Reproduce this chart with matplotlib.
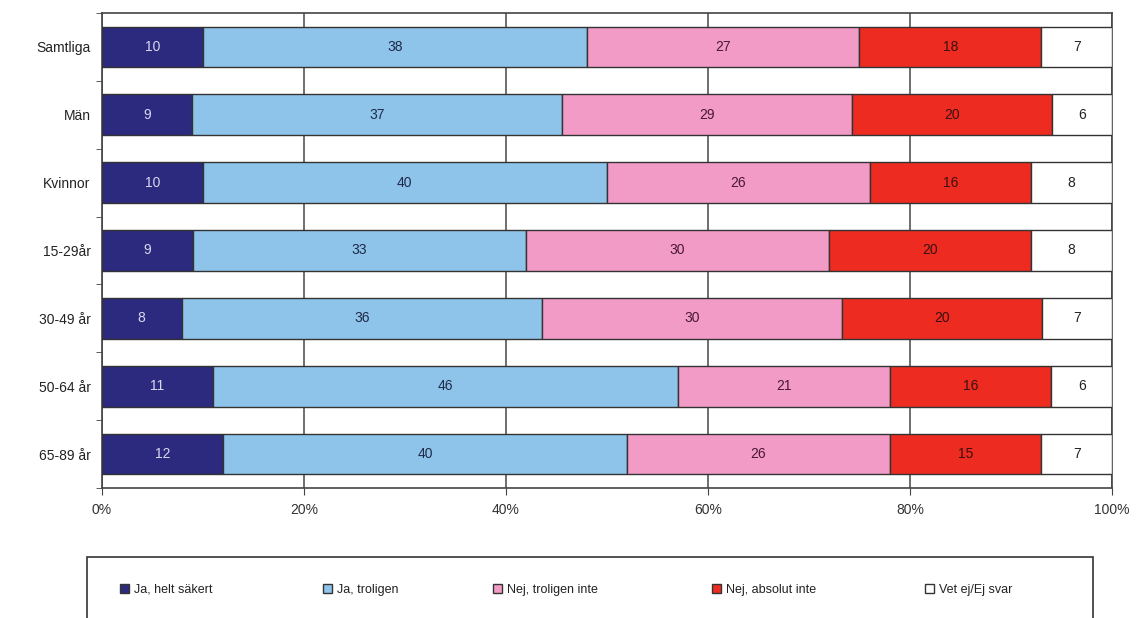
import matplotlib
matplotlib.use("Agg")
import matplotlib.pyplot as plt
import numpy as np
from matplotlib.patches import Rectangle, Patch

plt.rcParams['font.family'] = ['Liberation Sans', 'DejaVu Sans']

categories = ["Samtliga", "Män", "Kvinnor", "15-29år", "30-49 år", "50-64 år", "65-89 år"]
series_names = ["Ja, helt säkert", "Ja, troligen", "Nej, troligen inte", "Nej, absolut inte", "Vet ej/Ej svar"]
ja_helt = [10, 9, 10, 9, 8, 11, 12]
ja_troligen = [38, 37, 40, 33, 36, 46, 40]
nej_troligen = [27, 29, 26, 30, 30, 21, 26]
nej_absolut = [18, 20, 16, 20, 20, 16, 15]
vet_ej = [7, 6, 8, 8, 7, 6, 7]
xtick_labels = ["0%", "20%", "40%", "60%", "80%", "100%"]

colors = ["#2C2A7F", "#8FC4EA", "#F29BC6", "#EE2B20", "#FFFFFF"]
text_colors = ["#D8D8F0", "#1E2A48", "#4A1838", "#3A1010", "#222222"]

data = np.array([ja_helt, ja_troligen, nej_troligen, nej_absolut, vet_ej], dtype=float)
totals = data.sum(axis=0)
pct = data / totals * 100

fig = plt.figure(figsize=(11.36, 6.18), dpi=100)
W, H = 1136, 618
ax = fig.add_axes([101.7 / W, 1 - 488 / H, (1112 - 101.7) / W, (488 - 13) / H])

y = np.arange(len(categories))
left = np.zeros(len(categories))
for i in range(len(series_names)):
    ax.barh(y, pct[i], left=left, height=0.6, color=colors[i], edgecolor="#333333",
            linewidth=1.0, zorder=3, label=series_names[i])
    for j in range(len(categories)):
        ax.text(left[j] + pct[i][j] / 2, y[j], f"{int(data[i][j])}", ha="center", va="center",
                fontsize=10, color=text_colors[i], zorder=4)
    left += pct[i]

ax.set_xlim(0, 100)
ax.set_ylim(len(categories) - 0.5, -0.5)
ax.set_xticks(np.arange(0, 101, 20))
ax.set_xticklabels(xtick_labels, fontsize=10, color="#333333")
ax.set_yticks(y)
ax.set_yticklabels(categories, fontsize=10, color="#222222")
ax.set_yticks(np.arange(-0.5, len(categories), 1.0), minor=True)
ax.tick_params(axis="y", which="major", length=0, pad=8)
ax.tick_params(axis="y", which="minor", length=4, color="#444444", direction="out")
ax.tick_params(axis="x", length=5, color="#444444", direction="out", pad=6)
ax.grid(axis="x", color="#555555", linewidth=1.2, zorder=1)
for s in ax.spines.values():
    s.set_color("#444444")
    s.set_linewidth(1.2)

# legend box
fig.patches.append(Rectangle((87 / W, -0.05), (1093 - 87) / W, 0.05 + (1 - 557 / H),
                             transform=fig.transFigure, fill=False, edgecolor="#333333",
                             linewidth=1.2))
leg_x = [120, 323, 493, 712, 925]
for i in range(len(series_names)):
    h = Patch(facecolor=colors[i], edgecolor="#333333", linewidth=1.0)
    lg = fig.legend(handles=[h], labels=[series_names[i]], loc="center left",
                    bbox_to_anchor=(leg_x[i] / W, 1 - 590 / H), frameon=False,
                    fontsize=9, handlelength=0.7, handleheight=0.7, handletextpad=0.4,
                    borderaxespad=0, borderpad=0)
    for t in lg.get_texts():
        t.set_color("#222222")

fig.savefig("out.png", dpi=100, facecolor="white")
